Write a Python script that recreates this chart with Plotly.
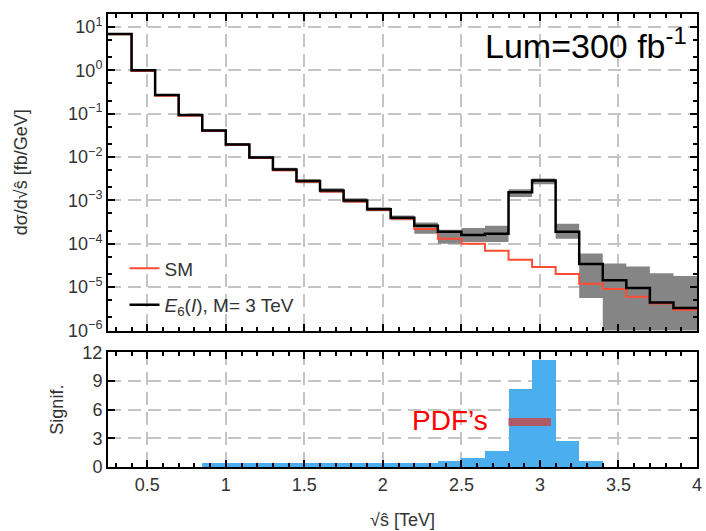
import plotly.graph_objects as go

# ---------------- data ----------------
bin_edges = [0.25, 0.40, 0.55, 0.70, 0.85, 1.00, 1.15, 1.30, 1.45, 1.60, 1.75, 1.90, 2.05,
             2.20, 2.35, 2.50, 2.65, 2.80, 2.95, 3.10, 3.25, 3.40, 3.55, 3.70, 3.85, 4.00]

e6_vals = [6.9, 1.0, 0.27, 0.093, 0.041, 0.0195, 0.0098, 0.0052, 0.0028, 0.0017, 0.0010,
           6.3e-4, 4.0e-4, 2.6e-4, 1.9e-4, 1.6e-4, 1.7e-4, 1.55e-3, 2.9e-3, 1.9e-4,
           3.4e-5, 1.45e-5, 9.5e-6, 4.4e-6, 3.3e-6]

sm_vals = [6.8, 0.97, 0.26, 0.09, 0.040, 0.019, 0.0095, 0.0050, 0.0027, 0.0016, 0.00095,
           6.0e-4, 3.8e-4, 2.2e-4, 1.3e-4, 1.0e-4, 6.9e-5, 4.3e-5, 2.9e-5, 2.0e-5,
           1.2e-5, 9.1e-6, 6.0e-6, 4.2e-6, 3.0e-6]

band_lo = [6.6, 0.96, 0.26, 0.089, 0.038, 0.0180, 0.0090, 0.0047, 0.0025, 0.0015, 8.9e-4,
           5.6e-4, 3.5e-4, 1.7e-4, 1.0e-4, 1.1e-4, 1.1e-4, 1.2e-3, 2.35e-3, 1.3e-4,
           5.6e-6, 1e-7, 1e-7, 1e-7, 1e-7]

band_hi = [7.2, 1.04, 0.28, 0.097, 0.044, 0.0210, 0.0106, 0.0057, 0.0031, 0.0019, 1.12e-3,
           7.0e-4, 4.5e-4, 3.1e-4, 2.1e-4, 2.3e-4, 2.6e-4, 1.8e-3, 3.2e-3, 2.9e-4,
           6.0e-5, 3.5e-5, 3.0e-5, 2.1e-5, 1.8e-5]

signif = [0, 0, 0, 0, 0.4, 0.4, 0.4, 0.4, 0.4, 0.4, 0.4, 0.4, 0.4, 0.4,
          0.6, 0.9, 1.6, 8.1, 11.2, 2.7, 0.6, 0, 0, 0, 0]

pdf_x = [2.80, 3.07]
pdf_y = [4.7, 4.7]

y_decades = [-6, -5, -4, -3, -2, -1, 0, 1]
signif_ticks = [0, 3, 6, 9, 12]
x_ticks = [0.5, 1, 1.5, 2, 2.5, 3, 3.5, 4]
x_ticklabels = ["0.5", "1", "1.5", "2", "2.5", "3", "3.5", "4"]

# ---------------- helpers ----------------
def step_y(vals):
    return list(vals) + [vals[-1]]

centers = [(a + b) / 2 for a, b in zip(bin_edges[:-1], bin_edges[1:])]
widths = [b - a for a, b in zip(bin_edges[:-1], bin_edges[1:])]

FONT = "Liberation Sans, Arial, sans-serif"
TXT = "#333333"

fig = go.Figure()

# error band
fig.add_trace(go.Scatter(x=bin_edges, y=step_y(band_lo), mode="lines", line=dict(width=0, shape="hv"),
                         showlegend=False, hoverinfo="skip", xaxis="x", yaxis="y"))
fig.add_trace(go.Scatter(x=bin_edges, y=step_y(band_hi), mode="lines", line=dict(width=0, shape="hv"),
                         fill="tonexty", fillcolor="#858585", showlegend=False, hoverinfo="skip",
                         xaxis="x", yaxis="y"))
# SM
fig.add_trace(go.Scatter(x=bin_edges, y=step_y(sm_vals), mode="lines",
                         line=dict(color="#ff4b33", width=2, shape="hv"),
                         name="SM", legendgroup="a", legendrank=1, xaxis="x", yaxis="y"))
# E6
fig.add_trace(go.Scatter(x=bin_edges, y=step_y(e6_vals), mode="lines",
                         line=dict(color="black", width=2.5, shape="hv"),
                         name="<i>E</i><sub>6</sub>(<i>I</i>), M= 3 TeV", legendgroup="b", legendrank=2,
                         xaxis="x", yaxis="y"))

# significance
fig.add_trace(go.Bar(x=centers, y=signif, width=widths, marker=dict(color="#4aaeef", line=dict(width=0)),
                     showlegend=False, xaxis="x2", yaxis="y2"))
fig.add_trace(go.Scatter(x=pdf_x, y=pdf_y, mode="lines", line=dict(color="#b05a66", width=8),
                         showlegend=False, xaxis="x2", yaxis="y2"))

grid = dict(showgrid=True, gridcolor="#c4c4c4", gridwidth=2, griddash="13px,7px")
axline = dict(showline=True, linecolor="black", linewidth=2, mirror="allticks",
              ticks="inside", ticklen=7, tickwidth=2, tickcolor="black", layer="above traces",
              zeroline=False)

xminor = dict(ticks="inside", ticklen=4, tickwidth=2, tickcolor="black", dtick=0.1, showgrid=False)

fig.update_layout(
    width=706, height=531,
    margin=dict(l=108, r=4, t=10, b=63),
    plot_bgcolor="white", paper_bgcolor="white",
    font=dict(family=FONT, size=18, color=TXT),
    bargap=0,
    xaxis=dict(domain=[0, 1], anchor="y", range=[0.25, 4], tickvals=x_ticks, showticklabels=False,
               minor=xminor, **grid, **axline),
    yaxis=dict(domain=[0.3013, 1], anchor="x", type="log", range=[-6, 1.3],
               tickvals=[10 ** d for d in y_decades],
               ticktext=["10<sup>%s</sup>" % (str(d).replace("-", "\u2212")) for d in y_decades],
               minor=dict(ticks="inside", ticklen=4, tickwidth=2, tickcolor="black", showgrid=False),
               title=dict(text="d\u03c3/d\u221a\u015d [fb/GeV]", standoff=36, font=dict(size=18)),
               tickfont=dict(size=18), **grid, **axline),
    xaxis2=dict(domain=[0, 1], anchor="y2", range=[0.25, 4], tickvals=x_ticks,
                ticktext=x_ticklabels,
                minor=xminor, tickfont=dict(size=18),
                title=dict(text="\u221a\u015d [TeV]", standoff=20, font=dict(size=18)),
                **grid, **axline),
    yaxis2=dict(domain=[0, 0.2533], anchor="x2", range=[0, 12], tickvals=signif_ticks,
                title=dict(text="Signif.", standoff=14, font=dict(size=18)),
                tickfont=dict(size=18), **grid, **axline),
    legend=dict(x=0.028, y=0.315, xanchor="left", yanchor="bottom", bgcolor="rgba(0,0,0,0)",
                font=dict(size=19, color=TXT, family=FONT), traceorder="grouped", tracegroupgap=9),
    annotations=[
        dict(text="Lum=300 fb<sup>-1</sup>", xref="paper", yref="paper", x=0.986, y=0.934,
             xanchor="right", yanchor="middle", showarrow=False,
             font=dict(size=34, color="black", family=FONT)),
        dict(text="PDF\u2019s", xref="x2", yref="y2", x=2.68, y=4.9, xanchor="right", yanchor="middle",
             showarrow=False, font=dict(size=28, color="#ff0000", family=FONT)),
    ],
)

fig.write_html("out.html")
